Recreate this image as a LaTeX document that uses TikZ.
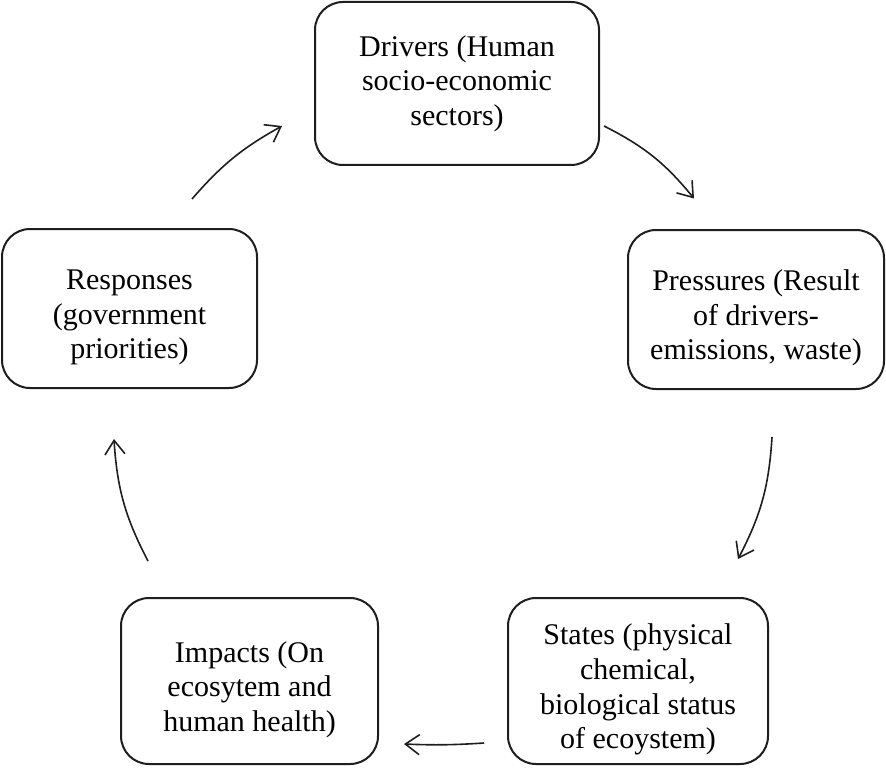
\documentclass[tikz,border=0pt]{standalone}
\usepackage{fontspec}
\setmainfont{Liberation Serif}
\usepackage{xcolor}
\definecolor{CycleDark}{RGB}{30, 30, 30}
\usepackage{tikz}
\usetikzlibrary{arrows.meta, positioning}
\newcommand{\topgap}{\rule{0pt}{19pt}}

\begin{document}
\begin{tikzpicture}[
        x=0.5pt, y=0.5pt,
        box/.style={rectangle, draw=CycleDark, line width=1pt, rounded corners=14pt, align=center, fill=white, font=\fontsize{15}{17.3}\selectfont},
        arrow/.style={-{Straight Barb[length=7pt, width=10pt]}, line width=0.8pt, CycleDark}
    ]
        \useasboundingbox (0,0) rectangle (886,767);

        % Nodes
        \node[box, minimum width=142pt, minimum height=81.5pt] (drivers) at (457,683.5) {Drivers (Human\\socio-economic\\sectors)};
        \node[box, minimum width=128pt, minimum height=79.5pt] (pressures) at (756,457.5) {\topgap Pressures (Result\\of drivers-\\emissions, waste)};
        \node[box, minimum width=130pt, minimum height=83pt] (states) at (638,86) {\topgap States (physical\\chemical,\\biological status\\of ecoystem)};
        \node[box, minimum width=128.5pt, minimum height=83pt] (impacts) at (249.5,86) {\topgap Impacts (On\\ecosytem and\\human health)};
        \node[box, minimum width=127.5pt, minimum height=79.5pt] (responses) at (129.5,458.5) {\topgap Responses\\(government\\priorities)};

        % Arrows
        \draw[arrow] ([shift={(62.5,29)}]responses.north) to[bend left=10] ([shift={(-32,-42.5)}]drivers.west);
        \draw[arrow] ([shift={(4,-42.5)}]drivers.east) to[bend left=12] ([shift={(-62,30.5)}]pressures.north);
        \draw[arrow] ([shift={(16,-47)}]pressures.south) to[bend left=12] ([shift={(100,38)}]states.north);
        \draw[arrow] ([shift={(-23,-62)}]states.west) to[bend left=3] ([shift={(25,-63)}]impacts.east);
        \draw[arrow] ([shift={(-101.5,36)}]impacts.north) to[bend left=12] ([shift={(-15.5,-50)}]responses.south);
    \end{tikzpicture}
\end{document}
